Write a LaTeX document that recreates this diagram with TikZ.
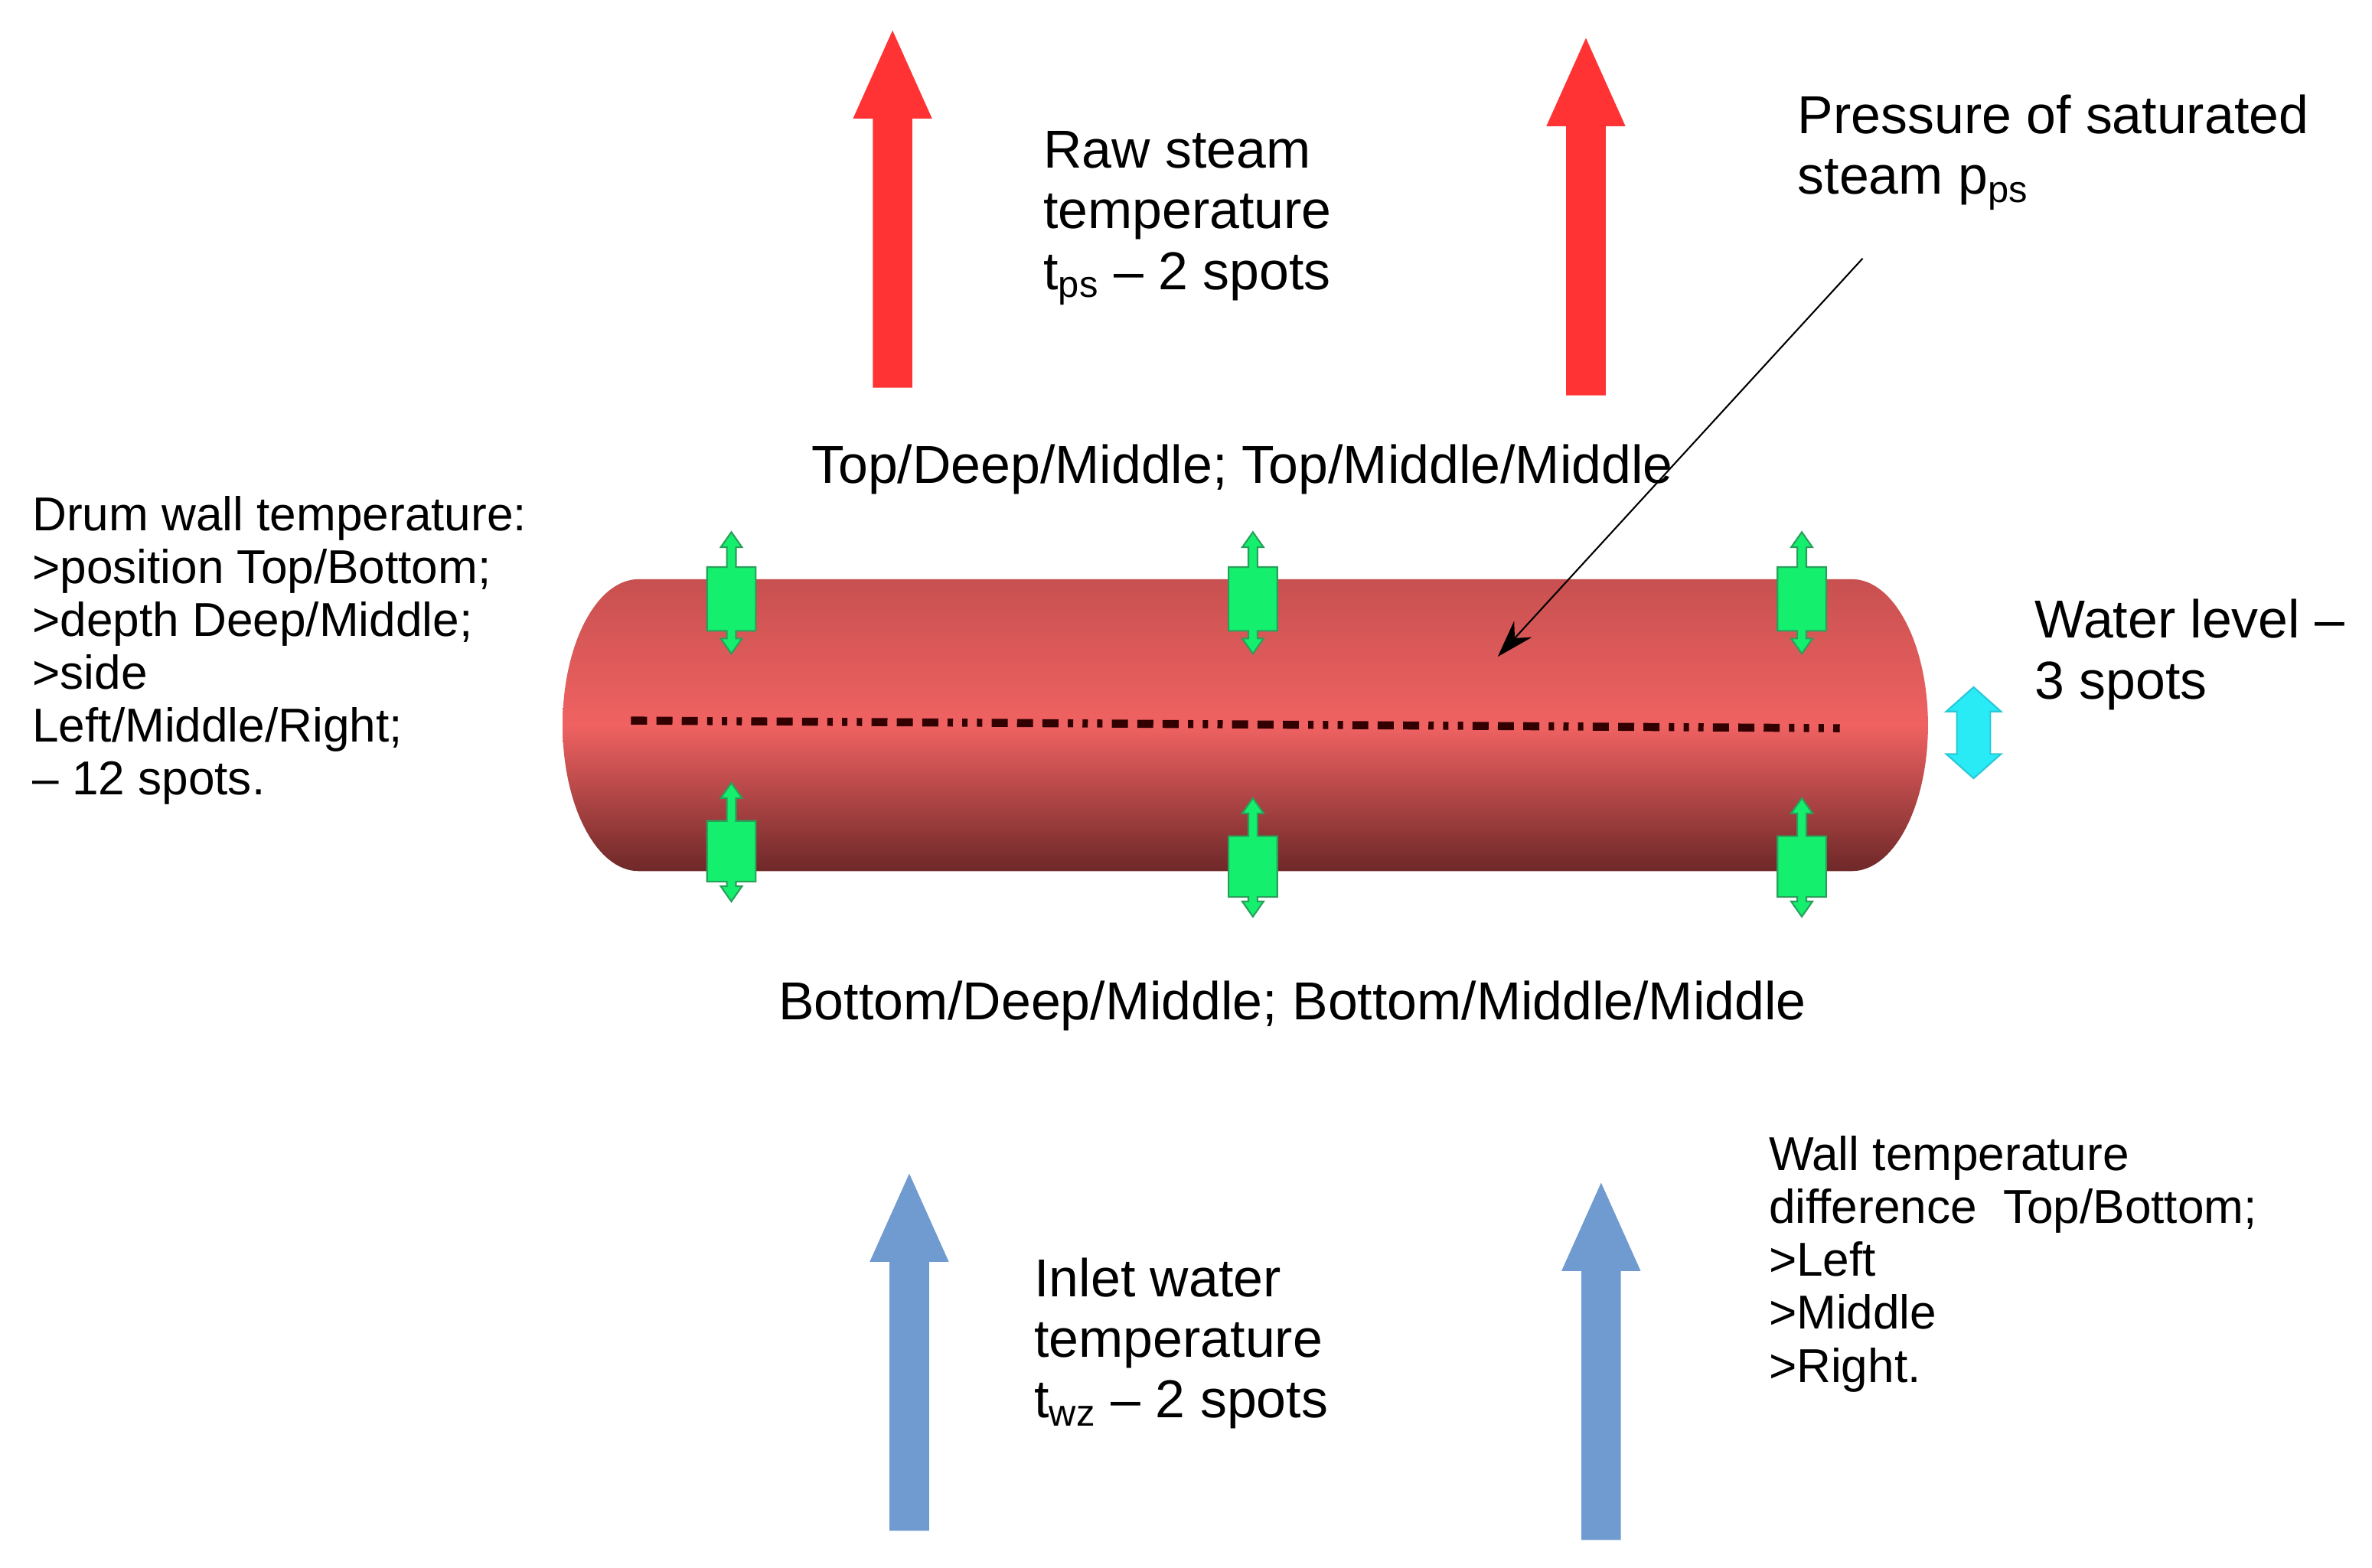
\documentclass[tikz,border=0pt]{standalone}
\usepackage{fontspec}
\setmainfont{Liberation Sans}
\usetikzlibrary{arrows.meta}
\begin{document}
\begin{tikzpicture}[x=0.02cm,y=-0.02cm,
  big/.style={anchor=north west,align=left,inner sep=0pt,font=\fontsize{20}{22.7}\selectfont},
  small/.style={anchor=north west,align=left,inner sep=0pt,font=\fontsize{17.8}{19.8}\selectfont},
  redarr/.style={fill=red!80!white,draw=none},
  bluearr/.style={fill={rgb,255:red,111;green,155;blue,208},draw=none},
  sens/.style={fill={rgb,255:red,20;green,240;blue,110},draw={rgb,255:red,40;green,160;blue,90},line width=0.6pt}]
\useasboundingbox (0,0) rectangle (1560,1031);
% red arrows
\foreach \c/\t/\b in {587/20/255,1043/25/260}{
  \fill[redarr] (\c,\t) -- (\c+26,\t+58) -- (\c+13,\t+58) -- (\c+13,\b) -- (\c-13,\b) -- (\c-13,\t+58) -- (\c-26,\t+58) -- cycle;}
% blue arrows
\foreach \c/\t/\b in {598/772/1007,1053/778/1013}{
  \fill[bluearr] (\c,\t) -- (\c+26,\t+58) -- (\c+13,\t+58) -- (\c+13,\b) -- (\c-13,\b) -- (\c-13,\t+58) -- (\c-26,\t+58) -- cycle;}
% drum
\shade[top color={rgb,255:red,200;green,80;blue,80},bottom color={rgb,255:red,110;green,40;blue,40},middle color={rgb,255:red,240;green,98;blue,98}]
  (420,381) -- (1218,381) arc[start angle=-90,end angle=90,x radius=50,y radius=96] -- (420,573) arc[start angle=90,end angle=270,x radius=50,y radius=96] -- cycle;
\draw[line width=3pt,dash pattern=on 6pt off 3.5pt on 6pt off 3.5pt on 6pt off 3.5pt on 2pt off 3.5pt on 2pt off 3.5pt on 2pt off 3.5pt,color={rgb,255:red,50;green,0;blue,0}] (415,474) -- (1210,479);
% green sensors
\foreach \c/\t/\b/\rt/\rb in {481/350/430/373/415, 824/350/430/373/415, 1185/350/430/373/415, 481/515/593/540/580, 824/525/603/550/590, 1185/525/603/550/590}{
  \draw[sens] (\c,\t) -- (\c+7,\t+10) -- (\c+3,\t+10) -- (\c+3,\rt) -- (\c+16,\rt) -- (\c+16,\rb) -- (\c+3,\rb) -- (\c+3,\b-10) -- (\c+7,\b-10) -- (\c,\b) -- (\c-7,\b-10) -- (\c-3,\b-10) -- (\c-3,\rb) -- (\c-16,\rb) -- (\c-16,\rt) -- (\c-3,\rt) -- (\c-3,\t+10) -- (\c-7,\t+10) -- cycle;}
% cyan water level arrow
\draw[fill={rgb,255:red,40;green,235;blue,245},draw={rgb,255:red,40;green,200;blue,215},line width=0.6pt]
  (1298,452) -- (1316,468) -- (1309,468) -- (1309,496) -- (1316,496) -- (1298,512) -- (1280,496) -- (1287,496) -- (1287,468) -- (1280,468) -- cycle;
% texts
\node[big] (raw) at (686,86) {Raw steam\\temperature\\t\textsubscript{ps} -- 2 spots};
\node[big] (press) at (1182,62) {Pressure of saturated\\steam p\textsubscript{ps}};
\coordinate (pp) at (1225,170);
\coordinate (pt) at (985,432);
\draw[-{Stealth[length=14pt,width=9pt]},line width=0.6pt] (pp) -- (pt);
\node[big,anchor=north] (topl) at (817,292) {Top/Deep/Middle; Top/Middle/Middle};
\node[small] (drum) at (21,326) {Drum wall temperature:\\>position Top/Bottom;\\>depth Deep/Middle;\\>side\\Left/Middle/Right;\\-- 12 spots.};
\node[big] (wl) at (1338,394) {Water level --\\3 spots};
\node[big,anchor=north] (botl) at (850,645) {Bottom/Deep/Middle; Bottom/Middle/Middle};
\node[small] (wall) at (1163,747) {Wall temperature\\difference\ \ Top/Bottom;\\>Left\\>Middle\\>Right.};
\node[big] (inlet) at (680,827) {Inlet water\\temperature\\t\textsubscript{wz} -- 2 spots};
\end{tikzpicture}
\end{document}
